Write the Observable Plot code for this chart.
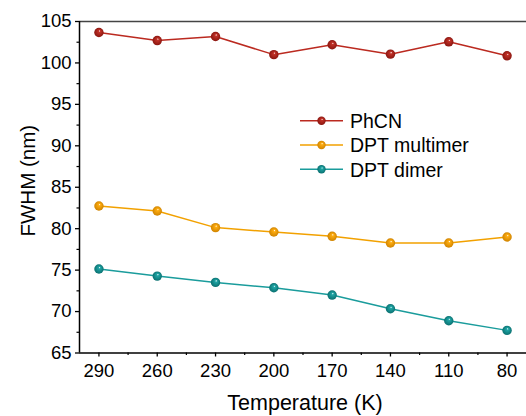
<!DOCTYPE html>
<html><head><meta charset="utf-8">
<script src="https://cdn.jsdelivr.net/npm/d3@7"></script>
<script src="https://cdn.jsdelivr.net/npm/@observablehq/plot@0.6"></script>
<style>html,body{margin:0;padding:0;background:#fff} #chart svg{display:block}</style>
</head><body><div id="chart"></div>
<script>
const temps = [290, 260, 230, 200, 170, 140, 110, 80];
const phcn = [103.67, 102.7, 103.19, 101.0, 102.19, 101.06, 102.55, 100.86];
const multimer = [82.74, 82.14, 80.13, 79.6, 79.08, 78.27, 78.27, 79.0];
const dimer = [75.13, 74.28, 73.52, 72.87, 71.99, 70.34, 68.89, 67.73];
const seriesNames = ["PhCN", "DPT multimer", "DPT dimer"];
const lineColors = ["#bb2a20", "#f2a100", "#1a9c9c"];
const ballColors = [["#c23228", "#8a1610"], ["#ffad10", "#d08400"], ["#20a6a6", "#0a7070"]];
const xMinor = [275, 245, 215, 185, 155, 125, 95];
const yTicks = [65, 70, 75, 80, 85, 90, 95, 100, 105];
const yMinor = [67.5, 72.5, 77.5, 82.5, 87.5, 92.5, 97.5, 102.5];
const xLabel = "Temperature (K)";
const yLabel = "FWHM (nm)";

const allSeries = [phcn, multimer, dimer];
const rows = [];
allSeries.forEach((vals, i) => vals.forEach((v, j) => rows.push({series: seriesNames[i], t: temps[j], v})));

const font = "'Liberation Sans', Arial, Helvetica, sans-serif";
const chart = Plot.plot({
  width: 526, height: 416,
  marginLeft: 79, marginRight: 0, marginTop: 21, marginBottom: 63.5,
  style: {fontFamily: font, fontSize: "18.5px", color: "#000", background: "#fff"},
  x: {domain: [70, 300], reverse: true},
  y: {domain: [65, 105]},
  marks: [
    Plot.ruleY([105], {stroke: "#444", strokeWidth: 1.6}),
    Plot.axisX({ticks: temps, tickSize: 4, tickPadding: 7, tickFormat: d => String(d), label: null, strokeWidth: 1.3}),
    Plot.axisX({ticks: xMinor, tickSize: 2.5, text: null, label: null, strokeWidth: 1.2}),
    Plot.axisY({ticks: yTicks, tickSize: 4, tickPadding: 4, label: null, strokeWidth: 1.3}),
    Plot.axisY({ticks: yMinor, tickSize: 2.5, text: null, label: null, strokeWidth: 1.2}),
    Plot.ruleX([300], {stroke: "#000", strokeWidth: 1.5}),
    Plot.ruleY([65], {stroke: "#000", strokeWidth: 1.5}),
    ...seriesNames.map((s, i) => Plot.line(rows.filter(r => r.series === s), {x: "t", y: "v", stroke: lineColors[i], strokeWidth: 1.5})),
    ...seriesNames.map((s, i) => Plot.dot(rows.filter(r => r.series === s), {x: "t", y: "v", r: 4.7, fill: `url(#ball${i})`})),
    Plot.text([yLabel], {text: d => d, frameAnchor: "left", textAnchor: "middle", lineAnchor: "middle", dx: -51, dy: -6.5, rotate: -90, fontSize: 20.5}),
    Plot.text([xLabel], {text: d => d, frameAnchor: "bottom", textAnchor: "middle", lineAnchor: "middle", dx: 2, dy: 50.5, fontSize: 21.5})
  ]
});

const svg = d3.select(chart);
const defs = svg.insert("defs", ":first-child");
ballColors.forEach(([base, dark], i) => {
  const g = defs.append("radialGradient").attr("id", `ball${i}`)
    .attr("cx", "0.5").attr("cy", "0.5").attr("r", "0.5").attr("fx", "0.58").attr("fy", "0.32");
  g.append("stop").attr("offset", "0%").attr("stop-color", "#ffffff");
  g.append("stop").attr("offset", "22%").attr("stop-color", base);
  g.append("stop").attr("offset", "100%").attr("stop-color", dark);
});

const lg = svg.append("g").attr("font-size", 19.5).attr("font-family", font).attr("fill", "#000").attr("text-anchor", "start");
seriesNames.forEach((s, i) => {
  const y = 120.7 + i * 24.3;
  lg.append("line").attr("x1", 300).attr("x2", 343).attr("y1", y).attr("y2", y)
    .attr("stroke", lineColors[i]).attr("stroke-width", 1.5);
  lg.append("circle").attr("cx", 321.5).attr("cy", y).attr("r", 4.2).attr("fill", `url(#ball${i})`);
  lg.append("text").attr("x", 350).attr("y", y).attr("dy", "0.38em").attr("text-anchor", "start").text(s);
});

document.getElementById("chart").appendChild(chart);
</script>
</body></html>
